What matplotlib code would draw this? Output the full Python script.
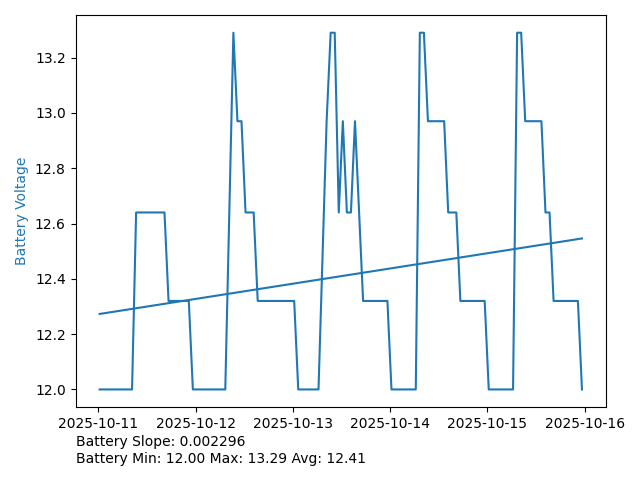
import numpy as np
import pandas as pd
import matplotlib
matplotlib.use("Agg")
import matplotlib.pyplot as plt
import matplotlib.dates as mdates

start = pd.Timestamp("2025-10-11 00:20")

# hours after start where the voltage changes, and voltage there
hours = [0, 8, 9, 16, 17, 22, 23, 31, 33, 34, 35, 36, 38, 39, 48, 49,
         54, 56, 57, 58, 59, 60, 61, 62, 63, 65, 71, 72, 78, 79, 80, 81,
         85, 86, 88, 89, 95, 96, 102, 103, 104, 105, 109, 110, 111, 112,
         118, 119]
volts = [12.00, 12.00, 12.64, 12.64, 12.32, 12.32, 12.00, 12.00, 13.29,
         12.97, 12.97, 12.64, 12.64, 12.32, 12.32, 12.00,
         12.00, 12.97, 13.29, 13.29, 12.64, 12.97, 12.64, 12.64, 12.97,
         12.32, 12.32, 12.00, 12.00, 13.29, 13.29, 12.97,
         12.97, 12.64, 12.64, 12.32, 12.32, 12.00, 12.00, 13.29, 13.29,
         12.97, 12.97, 12.64, 12.64, 12.32, 12.32, 12.00]

# trend line end points
trend_hours = [0, 119]
trend_volts = [12.273, 12.546]

slope = 0.002296
vmin, vmax, vavg = 12.00, 13.29, 12.41

times = start + pd.to_timedelta(hours, unit="h")
trend_times = start + pd.to_timedelta(trend_hours, unit="h")

fig, ax = plt.subplots(figsize=(6.4, 4.8), dpi=100)
ax.plot(times, volts, color="tab:blue")
ax.plot(trend_times, trend_volts, color="tab:blue")

ax.set_ylabel("Battery Voltage", color="tab:blue")
ax.xaxis.set_major_locator(mdates.DayLocator())
ax.xaxis.set_major_formatter(mdates.DateFormatter("%Y-%m-%d"))

fig.subplots_adjust(left=0.118, right=0.947, top=0.969, bottom=0.1515)
fig.text(0.118, 0.093,
         f"Battery Slope: {slope:.6f}\nBattery Min: {vmin:.2f} Max: {vmax:.2f} Avg: {vavg:.2f}",
         ha="left", va="top")

fig.savefig("out.png")
